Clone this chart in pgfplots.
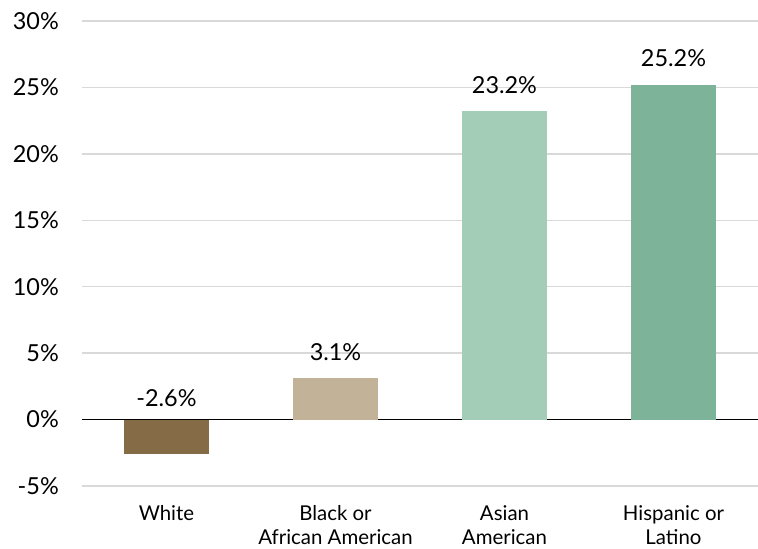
\documentclass[border=0pt]{standalone}
\usepackage{pgfplots}
\pgfplotsset{compat=1.18}
\usepackage{fontspec}
\setmainfont{Lato}

\definecolor{whitebar}{HTML}{866B47}
\definecolor{blackbar}{HTML}{C2B398}
\definecolor{asianbar}{HTML}{A3CDB6}
\definecolor{hispbar}{HTML}{7DB399}
\definecolor{gridgray}{HTML}{D9D9D9}

\begin{document}
\begin{tikzpicture}
\begin{axis}[
  width=676bp, height=465bp, scale only axis,
  xmin=-0.5, xmax=3.5, ymin=-5, ymax=30,
  ybar, bar width=85bp, bar shift=0pt,
  xtick={0,1,2,3},
  xticklabels={White, Black or\\African American, Asian\\American, Hispanic or\\Latino},
  xticklabel style={align=center, font=\fontsize{20.5}{24}\selectfont, inner sep=0pt, anchor=north, yshift=-19bp},
  ytick={-5,0,5,10,15,20,25,30},
  yticklabel={\pgfmathprintnumber{\tick}\%},
  yticklabel style={font=\fontsize{23.5}{27}\selectfont, inner sep=0pt, anchor=east, xshift=-23bp},
  /pgf/number format/assume math mode=true,
  ymajorgrids, grid style={color=gridgray, line width=1.5bp},
  axis line style={draw=none},
  major tick length=0pt, tick style={draw=none},
  extra y ticks={0}, extra y tick labels={},
  extra y tick style={grid style={black, line width=1.3bp}},
  nodes near coords={\pgfmathprintnumber[fixed,fixed zerofill,precision=1]{\pgfplotspointmeta}\%},
  every node near coord/.append style={font=\fontsize{23.5}{27}\selectfont, anchor=base, inner sep=0pt, yshift=18bp},
  clip=false,
]
\addplot[fill=whitebar, draw=none, every node near coord/.append style={yshift=29.5bp}] coordinates {(0,-2.6)};
\addplot[fill=blackbar, draw=none] coordinates {(1,3.1)};
\addplot[fill=asianbar, draw=none] coordinates {(2,23.2)};
\addplot[fill=hispbar, draw=none] coordinates {(3,25.2)};
\coordinate (bl) at (axis cs:-0.985,-9.67);
\coordinate (tr) at (axis cs:3.5,31.58);
\end{axis}
\pgfresetboundingbox
\useasboundingbox (bl) rectangle (tr);
\end{tikzpicture}
\end{document}
